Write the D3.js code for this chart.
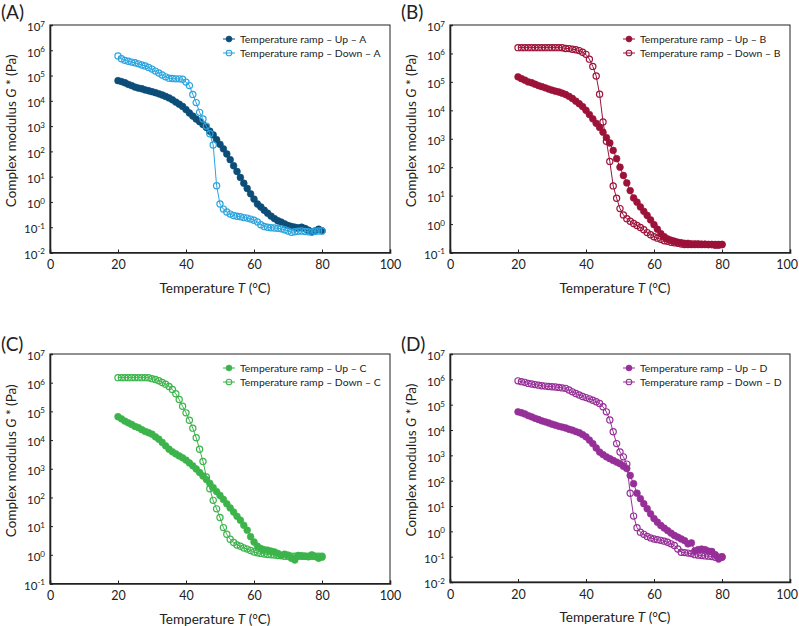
<!DOCTYPE html>
<html>
<head>
<meta charset="utf-8">
<script src="https://cdn.jsdelivr.net/npm/d3@7"></script>
<style>
  html, body { margin: 0; padding: 0; background: #fff; }
  svg { display: block; }
  text { font-family: Lato, "Open Sans", sans-serif; fill: #222; }
</style>
</head>
<body>
<svg id="chart" width="799" height="626"></svg>
<script>
// ---------- DATA ----------
const tempC = [20,21,22,23,24,25,26,27,28,29,30,31,32,33,34,35,36,37,38,39,40,
  41,42,43,44,45,46,47,48,49,50,51,52,53,54,55,56,57,58,59,60,
  61,62,63,64,65,66,67,68,69,70,71,72,73,74,75,76,77,78,79,80];

const xTicks = [0, 20, 40, 60, 80, 100];
const yTickExpAD = [-2, -1, 0, 1, 2, 3, 4, 5, 6, 7];
const yTickExpBC = [-1, 0, 1, 2, 3, 4, 5, 6, 7];

// Complex modulus G* (Pa), one value per tempC entry
const upA = [6.3e4,5.8e4,5.2e4,4.5e4,4.0e4,3.5e4,3.2e4,3.0e4,2.7e4,2.5e4,2.3e4,
  2.1e4,1.9e4,1.7e4,1.5e4,1.3e4,1.1e4,8.9e3,7.4e3,6.0e3,4.5e3,
  3.3e3,2.5e3,1.9e3,1.5e3,1.15e3,890,630,450,290,190,
  126,79,47,27,16,9.3,5.5,3.4,2.1,1.3,
  0.83,0.63,0.47,0.36,0.275,0.22,0.18,0.16,0.135,0.117,
  0.107,0.1,0.095,0.1,0.089,0.076,0.066,0.072,0.083,0.072];
const downA = [6.0e5,4.6e5,4.0e5,3.7e5,3.4e5,3.2e5,2.9e5,2.6e5,2.4e5,2.1e5,1.8e5,
  1.5e5,1.26e5,1.05e5,8.9e4,7.9e4,7.6e4,7.4e4,7.4e4,7.1e4,5.5e4,
  4.0e4,1.8e4,8.5e3,3.5e3,1.9e3,1.0e3,500,180,4.4,0.83,
  0.52,0.4,0.33,0.29,0.27,0.26,0.24,0.23,0.21,0.19,
  0.16,0.126,0.107,0.1,0.095,0.093,0.091,0.087,0.079,0.071,
  0.063,0.066,0.069,0.071,0.068,0.066,0.063,0.069,0.071,0.071];

const upB = [1.5e5,1.3e5,1.15e5,1.0e5,9.3e4,8.3e4,7.4e4,6.8e4,6.2e4,5.6e4,5.1e4,
  4.7e4,4.4e4,4.0e4,3.6e4,3.1e4,2.6e4,2.1e4,1.7e4,1.35e4,1.0e4,
  7.1e3,5.0e3,3.5e3,2.5e3,1.7e3,1.1e3,710,390,200,100,
  51,28,15,8.3,5.9,4.0,2.8,2.0,1.4,0.95,
  0.66,0.46,0.36,0.30,0.27,0.25,0.23,0.22,0.21,0.21,
  0.2,0.2,0.2,0.195,0.195,0.19,0.19,0.18,0.18,0.19];
const downB = [1.6e6,1.6e6,1.6e6,1.6e6,1.6e6,1.6e6,1.6e6,1.6e6,1.6e6,1.6e6,1.6e6,
  1.6e6,1.6e6,1.58e6,1.5e6,1.48e6,1.4e6,1.35e6,1.26e6,1.1e6,9.3e5,
  6.3e5,3.5e5,1.6e5,3.7e4,3.9e3,810,160,22,8.1,3.5,
  2.1,1.55,1.26,1.05,0.89,0.76,0.63,0.5,0.42,0.36,
  0.32,0.29,0.26,0.25,0.23,0.22,0.21,0.2,0.19,0.19,
  0.19,0.19,0.19,0.19,0.19,0.19,0.19,0.19,0.19,0.19];

const upC = [6.5e4,5.5e4,4.6e4,4.0e4,3.5e4,3.0e4,2.7e4,2.3e4,2.0e4,1.8e4,1.6e4,
  1.3e4,1.07e4,8.3e3,6.3e3,4.8e3,3.9e3,3.3e3,2.8e3,2.4e3,2.0e3,
  1.6e3,1.26e3,980,740,560,420,310,220,160,117,
  85,60,43,31,22,16,10.7,7.2,4.3,2.8,
  2.0,1.66,1.5,1.45,1.35,1.26,1.12,0.98,1.05,0.98,
  0.76,0.66,0.95,0.93,0.89,0.85,1.0,0.87,0.76,0.83];
const downC = [1.5e6,1.5e6,1.5e6,1.5e6,1.5e6,1.5e6,1.5e6,1.5e6,1.5e6,1.48e6,1.38e6,
  1.29e6,1.17e6,1.02e6,8.9e5,7.4e5,5.8e5,4.1e5,2.6e5,1.5e5,8.9e4,
  4.9e4,2.6e4,1.2e4,4.8e3,1.8e3,520,200,79,40,20,
  8.9,5.2,3.5,2.7,2.2,2.0,1.74,1.58,1.41,1.26,
  1.17,1.12,1.07,1.02,1.0,0.98,0.95,0.93,0.89,0.89,
  0.89,0.89,0.89,0.89,0.89,0.89,0.89,0.89,0.89,0.89];

const upD = [5.2e4,4.8e4,4.3e4,3.7e4,3.3e4,2.9e4,2.6e4,2.3e4,2.1e4,1.9e4,1.7e4,
  1.55e4,1.4e4,1.3e4,1.2e4,1.07e4,9.8e3,8.7e3,7.8e3,6.6e3,5.4e3,
  4.0e3,2.9e3,1.95e3,1.35e3,1.07e3,870,740,630,540,470,
  370,300,160,76,32,19.5,12.3,7.8,4.9,3.2,
  2.3,1.7,1.35,1.07,0.85,0.69,0.59,0.5,0.43,0.32,
  0.35,0.17,0.19,0.2,0.19,0.166,0.16,0.12,0.081,0.1];
const downD = [8.7e5,8.1e5,7.6e5,6.9e5,6.5e5,6.2e5,5.9e5,5.6e5,5.4e5,5.2e5,5.1e5,
  5.0e5,4.8e5,4.6e5,4.4e5,3.8e5,3.2e5,2.75e5,2.4e5,2.1e5,1.9e5,
  1.7e5,1.5e5,1.3e5,1.12e5,8.3e4,5.2e4,2.5e4,8.5e3,2.9e3,1.35e3,
  870,450,32,4.0,1.4,0.93,0.76,0.63,0.55,0.5,
  0.47,0.44,0.41,0.37,0.32,0.275,0.2,0.15,0.145,0.138,
  0.132,0.12,0.115,0.11,0.107,0.105,0.102,0.095,0.095,0.095];

const panelLabels = ["(A)", "(B)", "(C)", "(D)"];
const seriesNames = ["A", "B", "C", "D"];
const upColors = ["#0c4e78", "#9c1238", "#3cb44b", "#962f98"];
const downColors = ["#2ba4de", "#9c1238", "#3cb44b", "#962f98"];

// ---------- LAYOUT ----------
const layout = [
  { left: 50,  top: 25,  bottom: 252.5, yExp: yTickExpAD, lx: 1,   ly: 19 },
  { left: 450, top: 25,  bottom: 252.5, yExp: yTickExpBC, lx: 401, ly: 19 },
  { left: 50,  top: 354, bottom: 583.5, yExp: yTickExpBC, lx: 1,   ly: 351 },
  { left: 450, top: 354, bottom: 582,   yExp: yTickExpAD, lx: 401, ly: 351 }
];
const plotW = 340;
const svgW = 799;
const ups = [upA, upB, upC, upD];
const downs = [downA, downB, downC, downD];

const svg = d3.select("#chart");

layout.forEach((L, i) => {
  const g = svg.append("g");
  const x = d3.scaleLinear().domain([0, 100]).range([L.left, L.left + plotW]);
  const expMin = d3.min(L.yExp), expMax = d3.max(L.yExp);
  const y = d3.scaleLog().domain([Math.pow(10, expMin), Math.pow(10, expMax)]).range([L.bottom, L.top]);

  // frame
  g.append("rect")
    .attr("x", L.left).attr("y", L.top)
    .attr("width", plotW).attr("height", L.bottom - L.top)
    .attr("fill", "none").attr("stroke", "#222").attr("stroke-width", 1);

  // x axis
  const xa = g.append("g").attr("transform", `translate(0,${L.bottom})`)
    .call(d3.axisBottom(x).tickValues(xTicks).tickSize(-3).tickPadding(8).tickFormat(d3.format("d")));
  xa.select(".domain").attr("stroke", "#222").attr("stroke-width", 1.6);
  xa.selectAll(".tick line").attr("stroke", "#222");
  xa.selectAll(".tick text").attr("font-family", "Lato, sans-serif").attr("font-size", 12.5).attr("fill", "#222")
    .each(function(d) {
      // keep the last label inside the page
      const w = this.getComputedTextLength();
      const over = x(d) + w / 2 - (svgW - 1.5);
      if (over > 0) d3.select(this).attr("x", -over);
    });

  // y axis
  const ya = g.append("g").attr("transform", `translate(${L.left},0)`)
    .call(d3.axisLeft(y).tickValues(L.yExp.map(e => Math.pow(10, e))).tickSize(-3).tickPadding(5).tickFormat(""));
  ya.select(".domain").attr("stroke", "#222").attr("stroke-width", 1.6);
  ya.selectAll(".tick line").attr("stroke", "#222");
  ya.selectAll(".tick text").each(function(d) {
    const t = d3.select(this).text(null)
      .attr("font-family", "Lato, sans-serif").attr("font-size", 11.5).attr("fill", "#222")
      .attr("dy", "0.5em");
    t.append("tspan").text("10");
    t.append("tspan").attr("dy", "-0.55em").attr("font-size", 8).text(String(Math.round(Math.log10(d))));
  });

  // axis titles
  const xt = g.append("text")
    .attr("x", L.left + 165).attr("y", L.bottom + 40)
    .attr("text-anchor", "middle").attr("font-size", 13.5);
  xt.append("tspan").text("Temperature ");
  xt.append("tspan").attr("font-style", "italic").text("T");
  xt.append("tspan").text(" (°C)");

  const yt = g.append("text")
    .attr("transform", `translate(${L.left - 34},${(L.top + L.bottom) / 2 - 8}) rotate(-90)`)
    .attr("text-anchor", "middle").attr("font-size", 13.5);
  yt.append("tspan").text("Complex modulus ");
  yt.append("tspan").attr("font-style", "italic").text("G");
  yt.append("tspan").text(" * (Pa)");

  // panel label
  g.append("text").attr("x", L.lx).attr("y", L.ly)
    .attr("font-family", "'Liberation Sans', Arial, sans-serif").attr("font-size", 19)
    .text(panelLabels[i]);

  // series
  const upData = tempC.map((t, k) => [t, ups[i][k]]);
  const downData = tempC.map((t, k) => [t, downs[i][k]]);
  const line = d3.line().x(d => x(d[0])).y(d => y(d[1]));

  g.append("path").datum(upData).attr("d", line)
    .attr("fill", "none").attr("stroke", upColors[i]).attr("stroke-width", 1);
  g.append("g").selectAll("circle").data(upData).join("circle")
    .attr("cx", d => x(d[0])).attr("cy", d => y(d[1])).attr("r", 3.4)
    .attr("fill", upColors[i]).attr("stroke", upColors[i]).attr("stroke-width", 0.6);

  g.append("path").datum(downData).attr("d", line)
    .attr("fill", "none").attr("stroke", downColors[i]).attr("stroke-width", 1);
  g.append("g").selectAll("circle").data(downData).join("circle")
    .attr("cx", d => x(d[0])).attr("cy", d => y(d[1])).attr("r", 3.1)
    .attr("fill", "none").attr("stroke", downColors[i]).attr("stroke-width", 1.2);

  // legend
  const lgX = L.left + 179;
  const rows = [
    { label: `Temperature ramp – Up – ${seriesNames[i]}`, color: upColors[i], filled: true, dy: 14 },
    { label: `Temperature ramp – Down – ${seriesNames[i]}`, color: downColors[i], filled: false, dy: 28 }
  ];
  rows.forEach(r => {
    const cy = L.top + r.dy;
    g.append("line").attr("x1", lgX - 6).attr("x2", lgX + 6).attr("y1", cy).attr("y2", cy)
      .attr("stroke", r.color).attr("stroke-width", 1);
    g.append("circle").attr("cx", lgX).attr("cy", cy).attr("r", r.filled ? 3 : 2.8)
      .attr("fill", r.filled ? r.color : "none").attr("stroke", r.color).attr("stroke-width", r.filled ? 0.6 : 1.1);
    g.append("text").attr("x", lgX + 11).attr("y", cy).attr("dy", "0.35em")
      .attr("font-size", 10.4).text(r.label);
  });
});
</script>
</body>
</html>
